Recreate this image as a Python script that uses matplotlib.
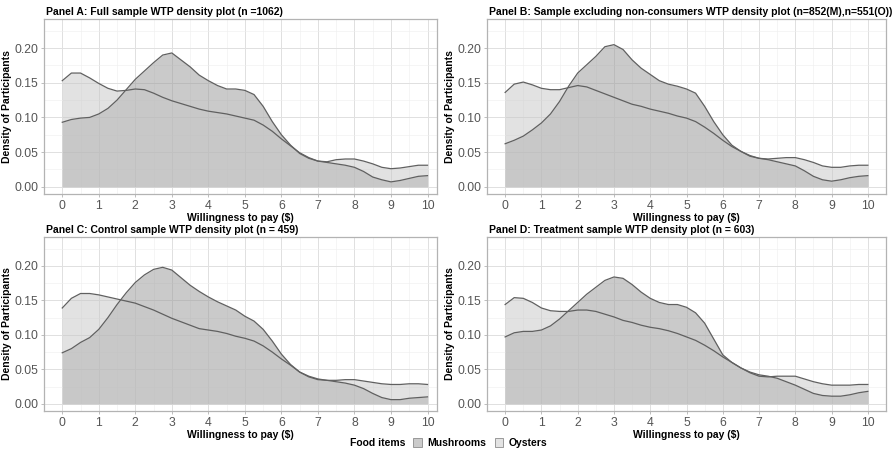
import numpy as np
import matplotlib.pyplot as plt
from matplotlib.patches import Patch
from matplotlib.ticker import MultipleLocator, FormatStrFormatter

plt.rcParams['font.family'] = ['Liberation Sans', 'DejaVu Sans']

# WTP grid ($0 to $10 in 0.25 steps), density values
wtp = np.linspace(0, 10, 41)

full_mush = [0.093, 0.097, 0.099, 0.100, 0.105, 0.113, 0.125, 0.140, 0.155, 0.167, 0.179,
             0.190, 0.193, 0.183, 0.173, 0.161, 0.153, 0.146, 0.141, 0.141, 0.139, 0.133,
             0.116, 0.094, 0.075, 0.060, 0.048, 0.041, 0.037, 0.035, 0.033, 0.031, 0.028,
             0.022, 0.014, 0.010, 0.007, 0.009, 0.012, 0.015, 0.016]
full_oys = [0.153, 0.164, 0.164, 0.157, 0.149, 0.142, 0.138, 0.139, 0.141, 0.140, 0.135,
            0.129, 0.124, 0.120, 0.116, 0.112, 0.109, 0.107, 0.105, 0.102, 0.099, 0.096,
            0.089, 0.080, 0.069, 0.059, 0.049, 0.042, 0.037, 0.036, 0.039, 0.040, 0.040,
            0.037, 0.033, 0.028, 0.026, 0.027, 0.029, 0.031, 0.031]

cons_mush = [0.062, 0.067, 0.073, 0.082, 0.092, 0.105, 0.123, 0.145, 0.164, 0.176, 0.188,
             0.202, 0.205, 0.198, 0.183, 0.171, 0.162, 0.153, 0.148, 0.145, 0.141, 0.135,
             0.116, 0.094, 0.075, 0.060, 0.051, 0.044, 0.041, 0.039, 0.036, 0.033, 0.030,
             0.023, 0.015, 0.010, 0.008, 0.010, 0.013, 0.015, 0.016]
cons_oys = [0.136, 0.148, 0.151, 0.147, 0.142, 0.140, 0.140, 0.143, 0.146, 0.144, 0.139,
            0.134, 0.129, 0.124, 0.119, 0.116, 0.112, 0.109, 0.106, 0.102, 0.099, 0.094,
            0.086, 0.077, 0.067, 0.058, 0.051, 0.045, 0.041, 0.040, 0.041, 0.042, 0.042,
            0.039, 0.035, 0.030, 0.028, 0.028, 0.030, 0.031, 0.031]

ctrl_mush = [0.074, 0.080, 0.089, 0.096, 0.108, 0.125, 0.144, 0.161, 0.176, 0.187, 0.195,
             0.198, 0.194, 0.183, 0.172, 0.163, 0.155, 0.148, 0.142, 0.136, 0.127, 0.120,
             0.108, 0.091, 0.072, 0.057, 0.046, 0.039, 0.035, 0.034, 0.032, 0.030, 0.027,
             0.022, 0.015, 0.009, 0.006, 0.006, 0.008, 0.009, 0.010]
ctrl_oys = [0.139, 0.153, 0.160, 0.160, 0.158, 0.155, 0.152, 0.149, 0.146, 0.141, 0.136,
            0.130, 0.124, 0.119, 0.114, 0.109, 0.107, 0.105, 0.102, 0.098, 0.095, 0.091,
            0.084, 0.075, 0.065, 0.056, 0.046, 0.040, 0.036, 0.034, 0.034, 0.035, 0.035,
            0.033, 0.031, 0.029, 0.028, 0.028, 0.029, 0.029, 0.028]

treat_mush = [0.097, 0.103, 0.105, 0.105, 0.107, 0.113, 0.123, 0.135, 0.147, 0.159, 0.169,
              0.179, 0.184, 0.182, 0.173, 0.162, 0.153, 0.147, 0.144, 0.144, 0.140, 0.132,
              0.117, 0.094, 0.071, 0.060, 0.052, 0.046, 0.042, 0.040, 0.037, 0.032, 0.027,
              0.021, 0.015, 0.012, 0.011, 0.011, 0.013, 0.016, 0.018]
treat_oys = [0.144, 0.154, 0.153, 0.147, 0.139, 0.135, 0.134, 0.134, 0.136, 0.136, 0.134,
             0.130, 0.126, 0.121, 0.118, 0.114, 0.111, 0.109, 0.106, 0.102, 0.097, 0.092,
             0.085, 0.077, 0.068, 0.060, 0.052, 0.045, 0.040, 0.039, 0.040, 0.040, 0.040,
             0.036, 0.032, 0.029, 0.027, 0.027, 0.027, 0.028, 0.028]

titles = ["Panel A: Full sample WTP density plot (n =1062)",
          "Panel B: Sample excluding non-consumers WTP density plot (n=852(M),n=551(O))",
          "Panel C: Control sample WTP density plot (n = 459)",
          "Panel D: Treatment sample WTP density plot (n = 603)"]
items = ["Mushrooms", "Oysters"]

MUSH_FILL = "#979797"
OYS_FILL = "#c7c7c7"
LINE = "#606060"

W, H = 892, 454
fig = plt.figure(figsize=(W / 100, H / 100), dpi=100)

# panel boxes in pixels: left, right, top, bottom, xmax
boxes = [(44, 437, 19, 194, 10.26), (487, 886, 19, 194, 10.5),
         (44, 437, 237, 411, 10.26), (487, 886, 237, 411, 10.5)]
data = [(full_mush, full_oys), (cons_mush, cons_oys),
        (ctrl_mush, ctrl_oys), (treat_mush, treat_oys)]

for (l, r, t, b, xmax), (mush, oys), title in zip(boxes, data, titles):
    ax = fig.add_axes([l / W, 1 - b / H, (r - l) / W, (b - t) / H])
    ax.fill_between(wtp, 0, mush, color=MUSH_FILL, alpha=0.5, lw=0, zorder=2)
    ax.fill_between(wtp, 0, oys, color=OYS_FILL, alpha=0.5, lw=0, zorder=2)
    ax.plot(wtp, mush, color=LINE, lw=0.9, zorder=3)
    ax.plot(wtp, oys, color=LINE, lw=0.9, zorder=3)

    ax.set_xlim(-0.5, xmax)
    ax.set_ylim(-0.0105, 0.242)
    ax.xaxis.set_major_locator(MultipleLocator(1))
    ax.xaxis.set_minor_locator(MultipleLocator(0.5))
    ax.yaxis.set_major_locator(MultipleLocator(0.05))
    ax.yaxis.set_minor_locator(MultipleLocator(0.025))
    ax.yaxis.set_major_formatter(FormatStrFormatter('%.2f'))
    ax.grid(which='major', color='#e0e0e0', lw=0.7, zorder=0)
    ax.grid(which='minor', color='#eeeeee', lw=0.4, zorder=0)
    ax.set_axisbelow(True)
    for s in ax.spines.values():
        s.set_color('#b3b3b3')
        s.set_linewidth(0.9)
    ax.tick_params(which='major', length=2.5, width=0.6, color='#b3b3b3',
                   labelcolor='#555555', labelsize=8.8, pad=1.5)
    ax.tick_params(which='minor', length=0)

    ax.set_xlabel("Willingness to pay ($)", fontsize=7.5, fontweight='bold', labelpad=1)
    ax.set_ylabel("Density of Participants", fontsize=7.5, fontweight='bold', labelpad=1.5)
    fig.text((l + 2) / W, 1 - (t - 7) / H, title, fontsize=7.5, fontweight='bold',
             ha='left', va='center')

# legend along the bottom
fig.text(378 / W, 1 - 443 / H, "Food items", fontsize=7.5, fontweight='bold',
         ha='center', va='center')
handles = [Patch(facecolor='#cbcbcb', edgecolor='#8c8c8c', lw=0.6),
           Patch(facecolor='#e3e3e3', edgecolor='#8c8c8c', lw=0.6)]
fig.legend(handles, items, loc='center left', bbox_to_anchor=(408 / W, 1 - 443 / H),
           ncol=2, frameon=False, handlelength=0.8, handleheight=1.0,
           handletextpad=0.5, columnspacing=0.9, borderpad=0,
           prop={'size': 7.5, 'weight': 'bold'})

plt.savefig("out.png", dpi=100)
